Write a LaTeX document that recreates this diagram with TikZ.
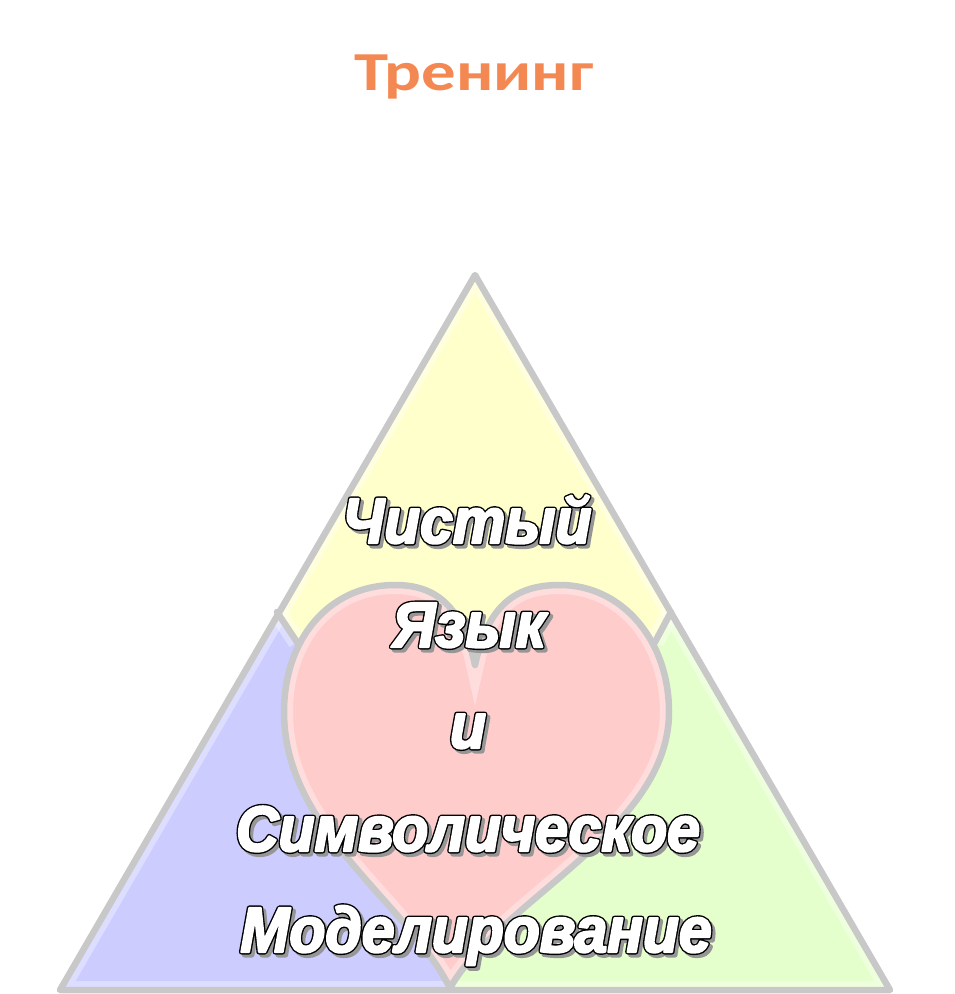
\documentclass[tikz,border=0pt]{standalone}
\usepackage{fontspec}
\setmainfont{Liberation Sans}
\newfontfamily\titlefont{Carlito}[FakeStretch=1.25]
\newfontfamily\heartfont{Liberation Sans}[FakeStretch=0.92]
\definecolor{titleorange}{RGB}{244,136,82}
\definecolor{edgegray}{RGB}{200,200,200}
\definecolor{shadowgray}{RGB}{150,150,150}
\definecolor{yellowfill}{RGB}{255,255,204}
\definecolor{bluefill}{RGB}{204,204,255}
\definecolor{greenfill}{RGB}{229,255,204}
\definecolor{heartfill}{RGB}{255,204,204}
\newcommand{\fxtext}[1]{%
  \rlap{\hspace{3pt}\raisebox{-3pt}{\color{shadowgray}\special{pdf:literal direct 2 Tr 5 w 1 j 0.59 0.59 0.59 RG}#1}}%
  \rlap{\color{black}\special{pdf:literal direct 2 Tr 5 w 1 j 0 0 0 RG}#1}%
  {\color{white}\special{pdf:literal direct 2 Tr 2.2 w 1 j 1 1 1 RG}#1}%
  \special{pdf:literal direct 0 Tr}}
\def\heartpath{(475,665) .. controls (462,605) and (435,585) .. (395,585)
  .. controls (328,585) and (284,640) .. (284,712)
  .. controls (284,830) and (405,900) .. (450,988)
  .. controls (500,900) and (669,830) .. (669,712)
  .. controls (669,640) and (622,585) .. (560,585)
  .. controls (515,585) and (488,605) .. (475,665) -- cycle}
\def\tripath{(475,275) -- (60,990) -- (890,990) -- cycle}
\tikzset{
  edge/.style={draw=edgegray, line width=6.5pt, line join=round, line cap=round},
  glow/.style={draw=white, line width=18pt, opacity=0.35},
  linetext/.style={anchor=base, inner sep=0pt, font=\heartfont\bfseries\itshape\fontsize{64}{64}\selectfont},
}
\begin{document}
\begin{tikzpicture}[x=1pt,y=-1pt]
\useasboundingbox (0,0) rectangle (955,994);
% regions
\fill[yellowfill] \tripath;
\fill[bluefill] (60,990) -- (277,612) -- (297,642) -- (450,990) -- cycle;
\fill[greenfill] (890,990) -- (671,612) -- (655,642) -- (450,990) -- cycle;
\begin{scope}
  \clip \tripath;
  \draw[glow] \tripath;
  \draw[glow] (277,612) -- (297,642);
  \draw[glow] (671,612) -- (655,642);
\end{scope}
% heart
\fill[heartfill] \heartpath;
\begin{scope}
  \clip \heartpath;
  \draw[glow] \heartpath;
\end{scope}
% outlines
\draw[edge] (277,612) -- (297,642);
\draw[edge] (671,612) -- (655,642);
\draw[edge] \heartpath;
\draw[edge] \tripath;
% title
\node[anchor=base, inner sep=0pt, text=titleorange, font=\titlefont\bfseries\fontsize{55}{55}\selectfont] (title) at (474,90) {Тренинг};
% heart text
\node[linetext] (l1) at (467,543) {\fxtext{Чистый}};
\node[linetext] (l2) at (469,647) {\fxtext{Язык}};
\node[linetext] (l3) at (468,748) {\fxtext{и}};
\node[linetext] (l4) at (468,851) {\fxtext{Символическое}};
\node[linetext] (l5) at (476,952) {\fxtext{Моделирование}};
\end{tikzpicture}
\end{document}
